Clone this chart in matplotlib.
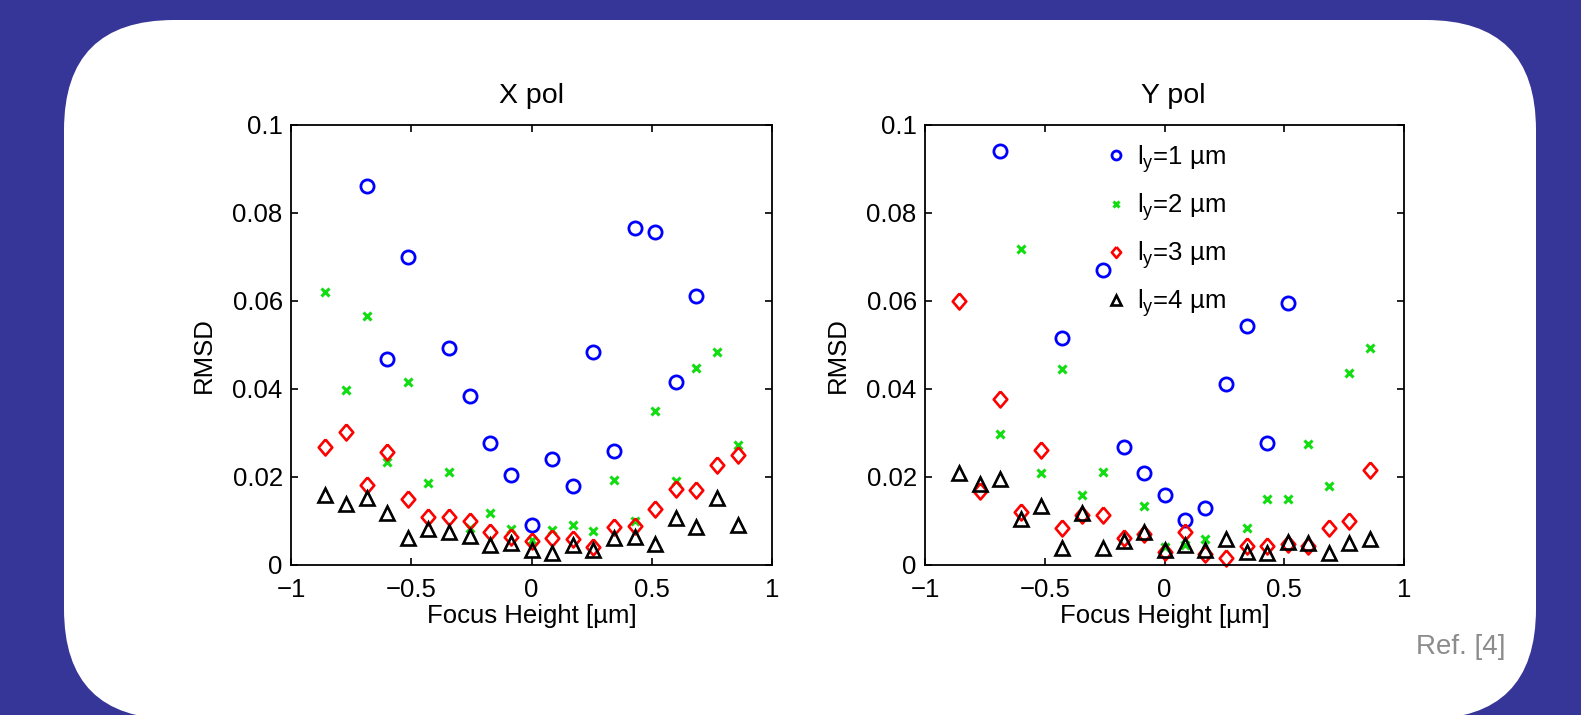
import numpy as np
import matplotlib
matplotlib.use("Agg")
import matplotlib.pyplot as plt
from matplotlib.patches import FancyBboxPatch

plt.rcParams['font.family'] = ['Liberation Sans', 'DejaVu Sans']
plt.rcParams['mathtext.fontset'] = 'custom'
plt.rcParams['mathtext.rm'] = 'Liberation Sans'

nan = np.nan
focus_height = [-0.857, -0.771, -0.686, -0.600, -0.514, -0.429, -0.343, -0.257, -0.171, -0.086,
                0.0, 0.086, 0.171, 0.257, 0.343, 0.429, 0.514, 0.600, 0.686, 0.771, 0.857]

series_labels = [r"$\mathregular{l_y}$=1 µm", r"$\mathregular{l_y}$=2 µm",
                 r"$\mathregular{l_y}$=3 µm", r"$\mathregular{l_y}$=4 µm"]

# X pol
x_ly1 = [nan, nan, 0.0862, 0.0468, 0.0700, nan, 0.0494, 0.0383, 0.0278, 0.0205, 0.0091,
         0.0240, 0.0180, 0.0483, 0.0259, 0.0766, 0.0756, 0.0416, 0.0612, nan, nan]
x_ly2 = [0.0620, 0.0398, 0.0567, 0.0235, 0.0417, 0.0187, 0.0212, 0.0085, 0.0119, 0.0082, 0.0057,
         0.0080, 0.0090, 0.0077, 0.0193, 0.0100, 0.0351, 0.0192, 0.0447, 0.0483, 0.0273]
x_ly3 = [0.0268, 0.0302, 0.0182, 0.0256, 0.0149, 0.0110, 0.0110, 0.0099, 0.0074, 0.0064, 0.0055,
         0.0061, 0.0058, 0.0042, 0.0086, 0.0089, 0.0127, 0.0172, 0.0171, 0.0227, 0.0250]
x_ly4 = [0.0159, 0.0139, 0.0152, 0.0119, 0.0062, 0.0081, 0.0076, 0.0066, 0.0045, 0.0049, 0.0034,
         0.0028, 0.0045, 0.0033, 0.0062, 0.0063, 0.0048, 0.0106, 0.0086, 0.0153, 0.0091]

# Y pol
y_ly1 = [nan, nan, 0.0942, nan, nan, 0.0516, nan, 0.0671, 0.0268, 0.0209, 0.0160,
         0.0102, 0.0129, 0.0412, 0.0544, 0.0278, 0.0595, nan, nan, nan, nan]
y_ly2 = [nan, nan, 0.0298, 0.0718, 0.0209, 0.0445, 0.0159, 0.0212, nan, 0.0135, 0.0040,
         0.0045, 0.0058, nan, 0.0083, 0.0149, 0.0151, 0.0275, 0.0180, 0.0436, 0.0494]
y_ly3 = [0.0601, 0.0169, 0.0377, 0.0121, 0.0262, 0.0083, 0.0114, 0.0114, 0.0062, 0.0070, 0.0030,
         0.0075, 0.0025, 0.0015, 0.0044, 0.0043, 0.0047, 0.0043, 0.0083, 0.0099, 0.0215]
y_ly4 = [0.0210, 0.0184, 0.0195, 0.0104, 0.0134, 0.0038, 0.0118, 0.0038, 0.0055, 0.0075, 0.0035,
         0.0045, 0.0035, 0.0058, 0.0030, 0.0027, 0.0053, 0.0050, 0.0027, 0.0049, 0.0058]

x_ticks = [-1, -0.5, 0, 0.5, 1]
x_ticklabels = ["\u22121", "\u22120.5", "0", "0.5", "1"]
y_ticks = [0, 0.02, 0.04, 0.06, 0.08, 0.1]
y_ticklabels = ["0", "0.02", "0.04", "0.06", "0.08", "0.1"]

W, H = 1581, 715
fig = plt.figure(figsize=(W / 100, H / 100), dpi=100)
fig.patch.set_facecolor('#363598')

bg = fig.add_axes([0, 0, 1, 1], zorder=-5)
bg.set_xlim(0, W)
bg.set_ylim(H, 0)
bg.axis('off')
bg.add_patch(FancyBboxPatch((64, 20), 1536 - 64, 719 - 20,
                            boxstyle="round,pad=0,rounding_size=110",
                            facecolor='white', edgecolor='none'))
bg.text(1505, 647, "Ref. [4]", ha='right', va='center', fontsize=20, color='#8c8c8c')

diamond = [(0, 1), (0.85, 0), (0, -1), (-0.85, 0), (0, 1)]
styles = [
    dict(marker='o', color='#0000ff', ms=9.5, mew=2.0),
    dict(marker='x', color='#11dd11', ms=6, mew=2.2),
    dict(marker=diamond, color='#ff0000', ms=11.5, mew=1.9),
    dict(marker='^', color='#000000', ms=10, mew=1.9),
]

def setup(ax, title, title_x):
    ax.set_xlim(-1, 1)
    ax.set_ylim(0, 0.1)
    ax.set_xticks(x_ticks)
    ax.set_xticklabels(x_ticklabels)
    ax.set_yticks(y_ticks)
    ax.set_yticklabels(y_ticklabels)
    ax.tick_params(direction='in', top=True, right=True, length=5, width=1.2,
                   labelsize=18.5, colors='black')
    ax.tick_params(axis='x', pad=9.5)
    ax.tick_params(axis='y', pad=6)
    for s in ax.spines.values():
        s.set_linewidth(1.3)
    ax.set_title(title, fontsize=20.5, pad=16, x=title_x)
    ax.set_xlabel("Focus Height [µm]", fontsize=18.5, labelpad=1)
    ax.set_ylabel("RMSD", fontsize=18.5)
    ax.yaxis.set_label_coords(-0.157, 0.478)

ax1 = fig.add_axes([291 / W, (H - 565) / H, (772 - 291) / W, 440 / H])
ax2 = fig.add_axes([925 / W, (H - 565) / H, (1404 - 925) / W, 440 / H])

for ax, data, title, tx in [(ax1, [x_ly1, x_ly2, x_ly3, x_ly4], "X pol", 0.5),
                            (ax2, [y_ly1, y_ly2, y_ly3, y_ly4], "Y pol", 0.518)]:
    for vals, st, lab in zip(data, styles, series_labels):
        ax.plot(focus_height, vals, linestyle='none', marker=st['marker'], ms=st['ms'],
                mew=st['mew'], mfc='none', mec=st['color'], label=lab, clip_on=False)
    setup(ax, title, tx)

leg = ax2.legend(loc='upper left', bbox_to_anchor=(0.335, 1.0), frameon=False,
                 fontsize=18.5, markerscale=0.68, handlelength=0.95, handletextpad=0.35,
                 labelspacing=0.64, borderaxespad=0.3)

fig.savefig("out.png", dpi=100, facecolor=fig.get_facecolor())
